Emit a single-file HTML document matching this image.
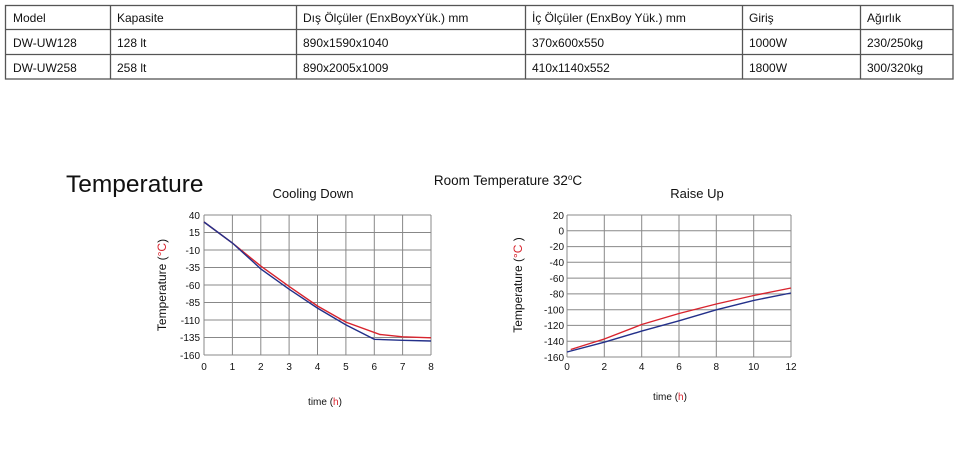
<!DOCTYPE html>
<html><head><meta charset="utf-8"><style>
html,body{margin:0;padding:0;background:#fff;width:960px;height:470px;overflow:hidden}
svg{display:block;font-family:"Liberation Sans",sans-serif}
</style></head><body>
<svg width="960" height="470" viewBox="0 0 960 470" xmlns="http://www.w3.org/2000/svg">
<g stroke="#555" stroke-width="1.3" fill="none">
<rect x="5.5" y="5.5" width="947.5" height="73.5"/>
<line x1="5" y1="29.5" x2="953" y2="29.5"/><line x1="5" y1="54.5" x2="953" y2="54.5"/>
<line x1="110.5" y1="5" x2="110.5" y2="79"/><line x1="296.5" y1="5" x2="296.5" y2="79"/>
<line x1="525.5" y1="5" x2="525.5" y2="79"/><line x1="742.5" y1="5" x2="742.5" y2="79"/>
<line x1="860.5" y1="5" x2="860.5" y2="79"/>
</g>
<g font-size="12" fill="#111">
<text x="13" y="22">Model</text><text x="117" y="22">Kapasite</text><text x="303" y="22">Dış Ölçüler (EnxBoyxYük.) mm</text><text x="532" y="22">İç Ölçüler (EnxBoy Yük.) mm</text><text x="749" y="22">Giriş</text><text x="867" y="22">Ağırlık</text>
<text x="13" y="47">DW-UW128</text><text x="117" y="47">128 lt</text><text x="303" y="47">890x1590x1040</text><text x="532" y="47">370x600x550</text><text x="749" y="47">1000W</text><text x="867" y="47">230/250kg</text>
<text x="13" y="72">DW-UW258</text><text x="117" y="72">258 lt</text><text x="303" y="72">890x2005x1009</text><text x="532" y="72">410x1140x552</text><text x="749" y="72">1800W</text><text x="867" y="72">300/320kg</text>
</g>
<text x="66" y="192" font-size="24.5" fill="#111">Temperature</text>
<text x="313" y="198" font-size="13" text-anchor="middle" fill="#111">Cooling Down</text>
<text x="508" y="185" font-size="13.5" text-anchor="middle" fill="#111">Room Temperature 32<tspan font-size="8" dy="-5">o</tspan><tspan dy="5">C</tspan></text>
<text x="697" y="198" font-size="13" text-anchor="middle" fill="#111">Raise Up</text>
<!-- chart 1 -->
<g stroke="#888" stroke-width="1">
<line x1="204" y1="215" x2="431" y2="215"/><line x1="204" y1="232.5" x2="431" y2="232.5"/><line x1="204" y1="250" x2="431" y2="250"/><line x1="204" y1="267.5" x2="431" y2="267.5"/><line x1="204" y1="285" x2="431" y2="285"/><line x1="204" y1="302.5" x2="431" y2="302.5"/><line x1="204" y1="320" x2="431" y2="320"/><line x1="204" y1="337.5" x2="431" y2="337.5"/><line x1="204" y1="355" x2="431" y2="355"/>
<line x1="204" y1="215" x2="204" y2="355"/><line x1="232.4" y1="215" x2="232.4" y2="355"/><line x1="260.8" y1="215" x2="260.8" y2="355"/><line x1="289.1" y1="215" x2="289.1" y2="355"/><line x1="317.5" y1="215" x2="317.5" y2="355"/><line x1="345.9" y1="215" x2="345.9" y2="355"/><line x1="374.3" y1="215" x2="374.3" y2="355"/><line x1="402.6" y1="215" x2="402.6" y2="355"/><line x1="431" y1="215" x2="431" y2="355"/>
</g>
<g font-size="10" fill="#111" text-anchor="end">
<text x="200" y="219">40</text><text x="200" y="236">15</text><text x="200" y="254">-10</text><text x="200" y="271">-35</text><text x="200" y="289">-60</text><text x="200" y="306">-85</text><text x="200" y="324">-110</text><text x="200" y="341">-135</text><text x="200" y="359">-160</text>
</g>
<g font-size="10" fill="#111" text-anchor="middle">
<text x="204" y="370">0</text><text x="232.4" y="370">1</text><text x="260.8" y="370">2</text><text x="289.1" y="370">3</text><text x="317.5" y="370">4</text><text x="345.9" y="370">5</text><text x="374.3" y="370">6</text><text x="402.6" y="370">7</text><text x="431" y="370">8</text>
</g>
<polyline fill="none" stroke="#d8242e" stroke-width="1.4" points="204,222 232.4,243 260.8,266.1 289.1,286.4 317.5,306 345.9,322.1 380,334.5 402.6,336.8 431,337.8"/>
<polyline fill="none" stroke="#23308a" stroke-width="1.4" points="204,222 232.4,243 260.8,268.9 289.1,289.2 317.5,308.1 345.9,324.9 374.3,339.3 402.6,340.3 431,341"/>
<text transform="translate(166,285) rotate(-90)" font-size="12" text-anchor="middle" fill="#111">Temperature (<tspan fill="#d8242e">°C</tspan>)</text>
<text x="325" y="405" font-size="10" text-anchor="middle" fill="#111">time (<tspan fill="#d8242e">h</tspan>)</text>
<!-- chart 2 -->
<g stroke="#888" stroke-width="1">
<line x1="567" y1="215" x2="791" y2="215"/><line x1="567" y1="230.8" x2="791" y2="230.8"/><line x1="567" y1="246.6" x2="791" y2="246.6"/><line x1="567" y1="262.3" x2="791" y2="262.3"/><line x1="567" y1="278.1" x2="791" y2="278.1"/><line x1="567" y1="293.9" x2="791" y2="293.9"/><line x1="567" y1="309.7" x2="791" y2="309.7"/><line x1="567" y1="325.4" x2="791" y2="325.4"/><line x1="567" y1="341.2" x2="791" y2="341.2"/><line x1="567" y1="357" x2="791" y2="357"/>
<line x1="567" y1="215" x2="567" y2="357"/><line x1="604.3" y1="215" x2="604.3" y2="357"/><line x1="641.7" y1="215" x2="641.7" y2="357"/><line x1="679" y1="215" x2="679" y2="357"/><line x1="716.3" y1="215" x2="716.3" y2="357"/><line x1="753.7" y1="215" x2="753.7" y2="357"/><line x1="791" y1="215" x2="791" y2="357"/>
</g>
<g font-size="10" fill="#111" text-anchor="end">
<text x="564" y="219">20</text><text x="564" y="234.5">0</text><text x="564" y="250">-20</text><text x="564" y="266">-40</text><text x="564" y="282">-60</text><text x="564" y="297.5">-80</text><text x="564" y="313.5">-100</text><text x="564" y="329">-120</text><text x="564" y="345">-140</text><text x="564" y="361">-160</text>
</g>
<g font-size="10" fill="#111" text-anchor="middle">
<text x="567" y="370">0</text><text x="604.3" y="370">2</text><text x="641.7" y="370">4</text><text x="679" y="370">6</text><text x="716.3" y="370">8</text><text x="753.7" y="370">10</text><text x="791" y="370">12</text>
</g>
<polyline fill="none" stroke="#d8242e" stroke-width="1.4" points="570.7,349.5 604.3,339 641.7,324.5 679,313.5 716.3,304 753.7,295.5 791,288"/>
<polyline fill="none" stroke="#23308a" stroke-width="1.4" points="567,352 604.3,342.2 641.7,331.1 679,320.8 716.3,309.8 753.7,300.4 791,293"/>
<text transform="translate(522,285) rotate(-90)" font-size="12" text-anchor="middle" fill="#111">Temperature (<tspan fill="#d8242e">°C</tspan> )</text>
<text x="670" y="400" font-size="10" text-anchor="middle" fill="#111">time (<tspan fill="#d8242e">h</tspan>)</text>
</svg>
</body></html>
